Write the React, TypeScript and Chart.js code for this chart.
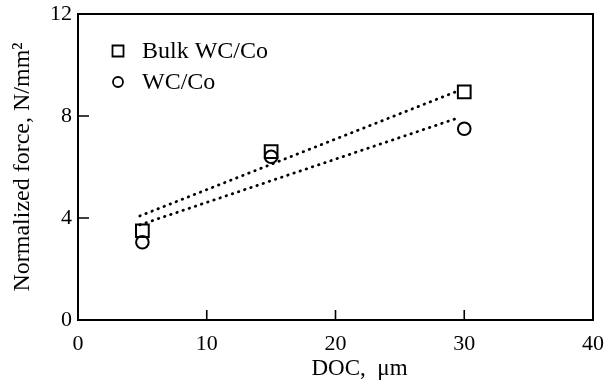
import React, { useEffect, useRef } from "react";
import { Chart, registerables } from "chart.js";

Chart.register(...registerables);

// ---- data ----
const seriesNames = ["Bulk WC/Co", "WC/Co"];
const docValues = [5, 15, 30];
const bulkForce = [3.5, 6.6, 8.95];
const wcForce = [3.05, 6.4, 7.5];
const fitDoc = [4.8, 29.5];
const bulkFit = [4.08, 8.98];
const wcFit = [3.73, 7.92];
const xTickValues = [0, 10, 20, 30, 40];
const yTickValues = [0, 4, 8, 12];
const xTitle = "DOC,  μm";
const yTitle = "Normalized force, N/mm²";

const FONT = "'Liberation Serif', 'Times New Roman', serif";

const toPoints = (xs: number[], ys: number[]) => xs.map((x, i) => ({ x, y: ys[i] }));

const framePlugin = {
  id: "frameTicks",
  afterDraw(chart: any) {
    const { ctx, chartArea, scales } = chart;
    const { left, right, top, bottom } = chartArea;
    ctx.save();
    ctx.strokeStyle = "#000";
    ctx.lineWidth = 2;
    ctx.strokeRect(left, top, right - left, bottom - top);
    ctx.lineWidth = 1.6;
    ctx.beginPath();
    xTickValues.forEach((v) => {
      const px = scales.x.getPixelForValue(v);
      ctx.moveTo(px, bottom);
      ctx.lineTo(px, bottom - 10);
    });
    yTickValues.forEach((v) => {
      const py = scales.y.getPixelForValue(v);
      ctx.moveTo(left, py);
      ctx.lineTo(left + 11, py);
    });
    ctx.stroke();
    // x-axis title, placed right of centre as in the reference
    ctx.fillStyle = "#000";
    ctx.font = `23px ${FONT}`;
    ctx.textAlign = "center";
    ctx.textBaseline = "middle";
    ctx.fillText(xTitle, (left + right) / 2 + 24, 369);
    ctx.restore();
  },
};

const legendPlugin = {
  id: "insideLegend",
  afterDraw(chart: any) {
    const { ctx, chartArea } = chart;
    ctx.save();
    ctx.strokeStyle = "#000";
    ctx.fillStyle = "#000";
    ctx.lineWidth = 1.8;
    ctx.font = `24px ${FONT}`;
    ctx.textBaseline = "middle";
    ctx.textAlign = "left";
    seriesNames.forEach((name, i) => {
      const cx = chartArea.left + 40;
      const cy = chartArea.top + 37 + i * 31;
      ctx.beginPath();
      if (i === 0) {
        ctx.rect(cx - 5.5, cy - 5.5, 11, 11);
      } else {
        ctx.arc(cx, cy, 5, 0, Math.PI * 2);
      }
      ctx.stroke();
      ctx.fillText(name, cx + 24, cy + 1);
    });
    ctx.restore();
  },
};

export default function App() {
  const ref = useRef<HTMLCanvasElement>(null);

  useEffect(() => {
    if (!ref.current) return;
    const chart = new Chart(ref.current, {
      type: "scatter",
      data: {
        datasets: [
          {
            label: seriesNames[0] + " fit",
            data: toPoints(fitDoc, bulkFit),
            showLine: true,
            borderColor: "#000",
            borderWidth: 2.8,
            borderDash: [0.5, 6],
            borderCapStyle: "round",
            pointRadius: 0,
          },
          {
            label: seriesNames[1] + " fit",
            data: toPoints(fitDoc, wcFit),
            showLine: true,
            borderColor: "#000",
            borderWidth: 2.8,
            borderDash: [0.5, 6],
            borderCapStyle: "round",
            pointRadius: 0,
          },
          {
            label: seriesNames[0],
            data: toPoints(docValues, bulkForce),
            pointStyle: "rect",
            pointRadius: 9,
            pointBorderWidth: 2,
            pointBorderColor: "#000",
            pointBackgroundColor: "rgba(0,0,0,0)",
          },
          {
            label: seriesNames[1],
            data: toPoints(docValues, wcForce),
            pointStyle: "circle",
            pointRadius: 6.3,
            pointBorderWidth: 2,
            pointBorderColor: "#000",
            pointBackgroundColor: "rgba(0,0,0,0)",
          },
        ],
      },
      options: {
        animation: false,
        responsive: true,
        maintainAspectRatio: false,
        layout: { padding: { left: 0, right: 16, top: 14, bottom: 0 } },
        plugins: {
          legend: { display: false },
          tooltip: { enabled: false },
        },
        scales: {
          x: {
            type: "linear",
            min: 0,
            max: 40,
            afterBuildTicks: (scale: any) => {
              scale.ticks = xTickValues.map((v) => ({ value: v }));
            },
            afterFit: (scale: any) => {
              scale.height = 69;
              scale.paddingLeft = 0;
              scale.paddingRight = 0;
            },
            grid: { display: false, drawTicks: false },
            border: { display: false },
            ticks: {
              color: "#000",
              padding: 11,
              maxRotation: 0,
              font: { family: FONT, size: 22 },
            },
            title: { display: false, text: xTitle },
          },
          y: {
            type: "linear",
            min: 0,
            max: 12,
            afterBuildTicks: (scale: any) => {
              scale.ticks = yTickValues.map((v) => ({ value: v }));
            },
            afterFit: (scale: any) => {
              scale.width = 78;
              scale.paddingTop = 0;
              scale.paddingBottom = 0;
            },
            grid: { display: false, drawTicks: false },
            border: { display: false },
            ticks: {
              color: "#000",
              padding: 6,
              font: { family: FONT, size: 22 },
            },
            title: {
              display: true,
              text: yTitle,
              color: "#000",
              padding: 8,
              font: { family: FONT, size: 24 },
            },
          },
        },
      },
      plugins: [framePlugin, legendPlugin],
    });
    return () => chart.destroy();
  }, []);

  return (
    <div style={{ position: "fixed", left: 0, top: 0, width: 609, height: 389, background: "#fff" }}>
      <canvas ref={ref} />
    </div>
  );
}
